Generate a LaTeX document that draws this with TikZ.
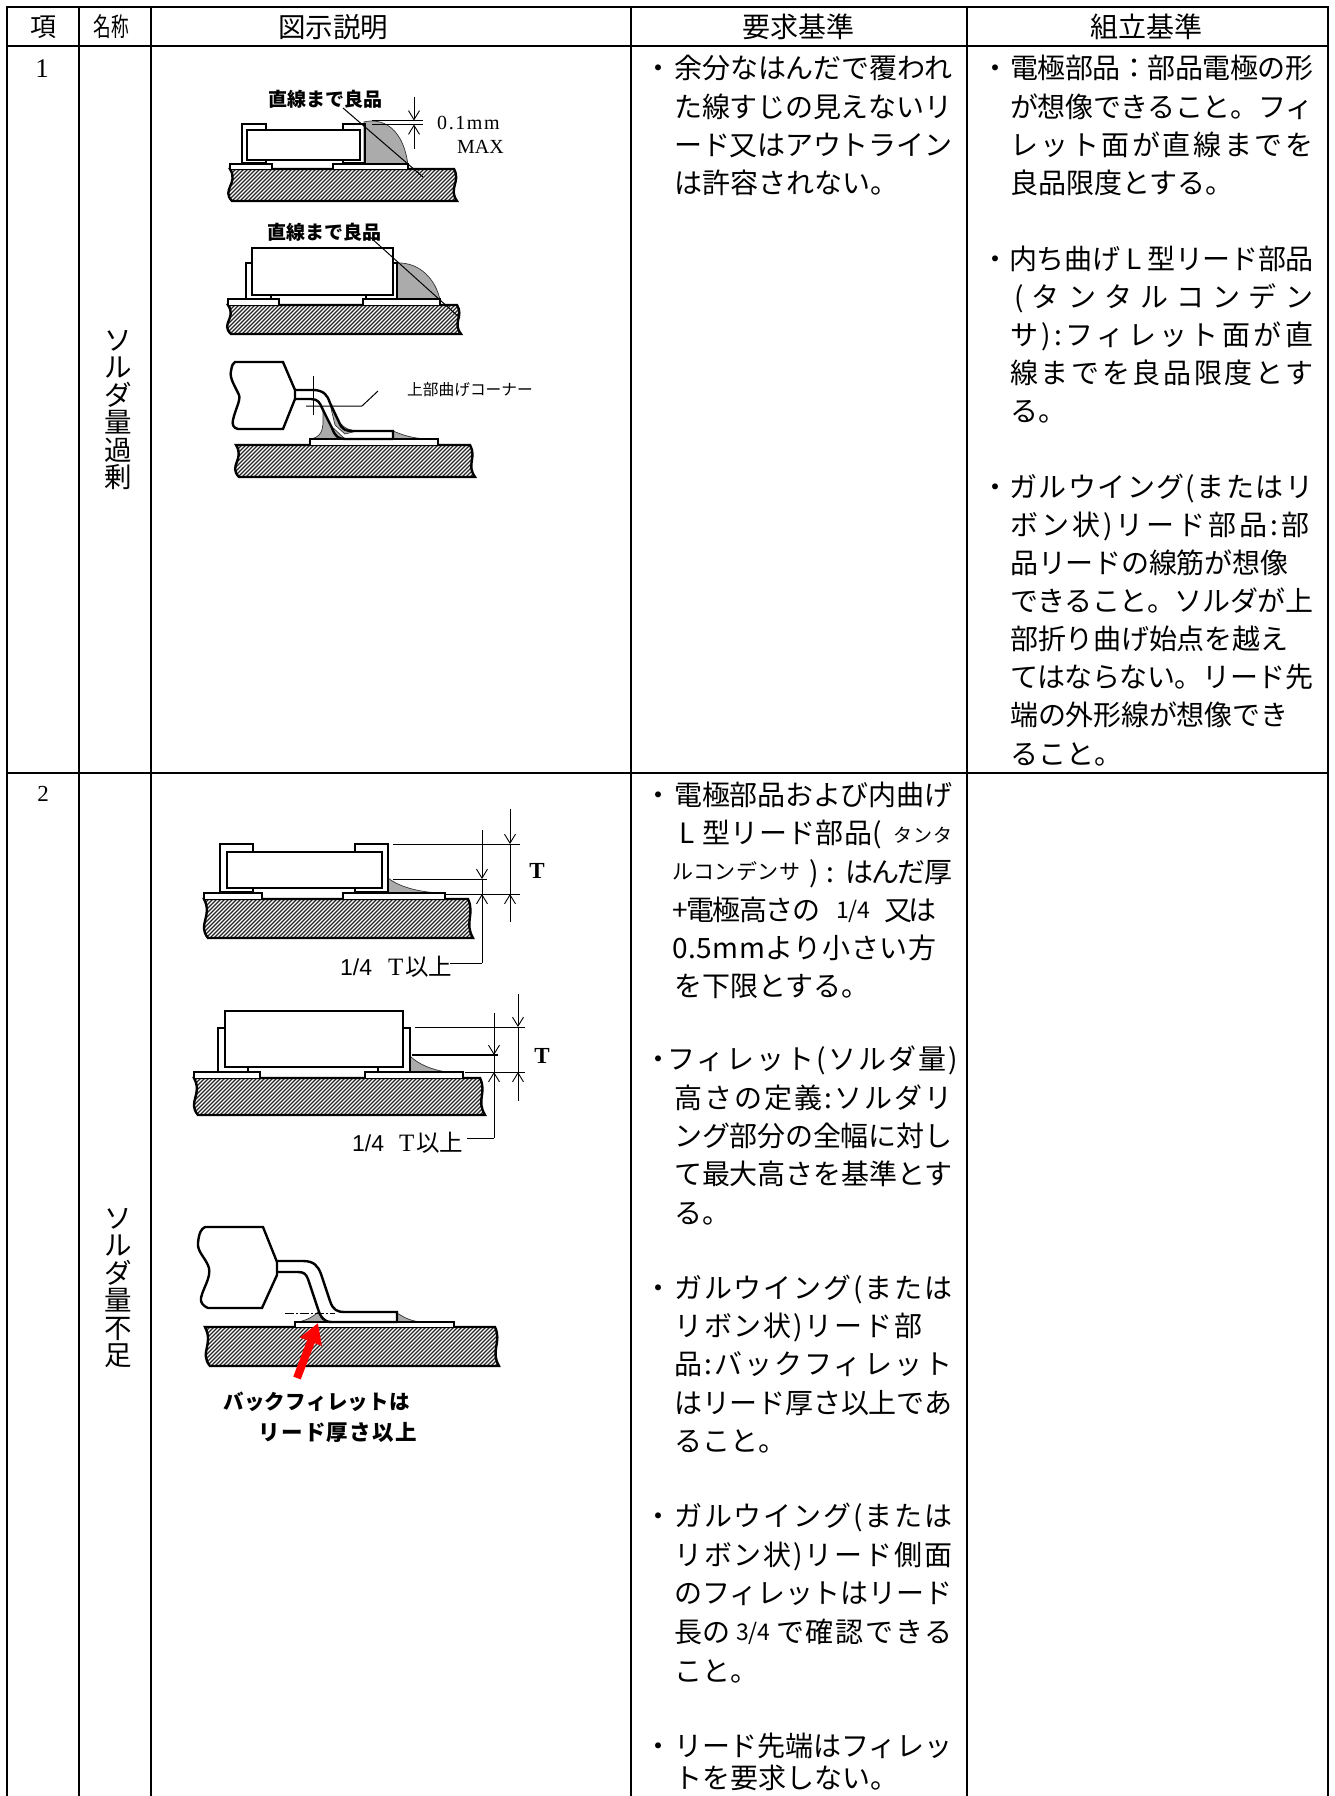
\documentclass[tikz,border=0pt]{standalone}
\usepackage{fontspec}
\usetikzlibrary{arrows.meta}
\newfontfamily\jpf{Noto Sans CJK JP}
\newfontfamily\sansf{Liberation Sans}
\newfontfamily\serf{Liberation Serif}
\ExplSyntaxOn
\cs_new:Npn \jcountchars #1 { \tl_count:n {#1} }
\ExplSyntaxOff
\newlength\jlen
\newcounter{jn}
\newcommand\jhook{}
\newcommand\jmed{\bfseries}
\makeatletter
\newcommand\jstrip[1]{\strip@pt#1}
\makeatother
% stretched line: [size]{x}{y centre}{width}{text}
\newcommand\jline[5][28]{%
  \stepcounter{jn}%
  \pgfinterruptpicture
    \settowidth\jlen{\fontsize{#1}{#1}\jpf\jhook #5}%
    \global\jlen=\jlen
  \endpgfinterruptpicture
  \edef\jw{\jstrip{\jlen}}%
  \edef\jnum{\jcountchars{#5}}%
  \pgfmathsetmacro\jsp{(#4-\jw)/(#1*(\jnum-1))*100}%
  \node[anchor=base west,inner sep=0pt] (t\arabic{jn}) at (#2,{#3+0.38*#1}) {\fontsize{#1}{#1}\jpf\jhook\addfontfeature{LetterSpace=\jsp}#5};%
}
% natural line
\newcommand\jtext[4][28]{%
  \stepcounter{jn}%
  \node[anchor=base west,inner sep=0pt] (t\arabic{jn}) at (#2,{#3+0.38*#1}) {\fontsize{#1}{#1}\jpf #4};%
}
% centred
\newcommand\jcen[4][28]{%
  \stepcounter{jn}%
  \node[anchor=base,inner sep=0pt] (t\arabic{jn}) at (#2,{#3+0.38*#1}) {\fontsize{#1}{#1}\jpf #4};%
}
\newcommand\jdot[2]{\jcen{#1}{#2}{・}}
% xl xlb xr xrb yt yb
\newcommand\boardpath[6]{(#1,#5) -- (#3,#5) .. controls ({#3+7},{#5+(#6-#5)*.4}) and ({#4-9},{#5+(#6-#5)*.6}) .. (#4,#6) -- (#2,#6) .. controls ({#2-11},{#5+(#6-#5)*.65}) and ({#1+9},{#5+(#6-#5)*.45}) .. cycle}
\newcommand\board[6]{%
  \begin{scope}
    \clip \boardpath{#1}{#2}{#3}{#4}{#5}{#6};
    \foreach \i in {0,4,...,340}
      \draw[hatchline] ({#1-50+\i},#6) -- ({#1-50+\i+#6-#5},#5);
  \end{scope}
  \draw[ol] \boardpath{#1}{#2}{#3}{#4}{#5}{#6};
}
\tikzset{
  x=1pt,y=-1pt,
  ol/.style={line width=2.4pt,draw=black,line join=miter},
  tl/.style={line width=1pt,draw=black},
  grid/.style={line width=2.6pt,draw=black},
  hatchline/.style={line width=1.1pt,draw=black!85},
  fillet/.style={fill=black!33,draw=black!80,line width=.7pt},
  padbox/.style={ol,fill=white},
  dimtip/.style={-{Straight Barb[length=9pt,width=11pt,line width=.9pt]},tl},
  vname/.style={inner sep=0pt,align=center,font=\fontsize{27.5}{27.5}\jpf},
}
\begin{document}
\begin{tikzpicture}
\useasboundingbox (0,0) rectangle (1335,1796);
\fill[white] (0,0) rectangle (1335,1796);
% table grid
\draw[grid] (7,1796) -- (7,7) -- (1328,7) -- (1328,1796);
\draw[grid] (7,46) -- (1328,46);
\draw[grid] (7,773) -- (1328,773);
\foreach \cx in {79,151,631,967} \draw[grid] (\cx,7) -- (\cx,1796);
% header
\jcen[26]{43}{27}{項}
\node[inner sep=0pt] (hname) at (111,27) {\scalebox{.68}[1]{\fontsize{26}{26}\jpf 名称}};
\jcen[27.5]{333}{27}{図示説明}
\jcen{798}{27}{要求基準}
\jcen{1146}{27}{組立基準}
% numbers
\node[inner sep=0pt] (n1) at (42,69) {\fontsize{27}{27}\serf 1};
\node[inner sep=0pt] (n2) at (43,794) {\fontsize{23}{23}\serf 2};
% vertical names
\node[vname] (v1) at (118.5,410) {ソ\\ル\\ダ\\量\\過\\剰};
\node[vname] (v2) at (118.5,1288) {ソ\\ル\\ダ\\量\\不\\足};
% column 4 row 1
\jdot{658}{68}
\jline{674}{68}{278}{余分なはんだで覆われ}
\jline{674}{107}{278}{た線すじの見えないリ}
\jline{674}{145}{278}{ード又はアウトライン}
\jtext{674}{183}{は許容されない。}
% column 5 row 1
\jdot{995}{68}
\jline{1010}{68}{303}{電極部品：部品電極の形}
\jline{1010}{107}{303}{が想像できること。フィ}
\jline{1010}{145}{303}{レット面が直線までを}
\jtext{1010}{183}{良品限度とする。}
\jdot{995}{259}
\jline{1009}{259}{304}{内ち曲げ~L~型リード部品}
\jline{1014}{297}{299}{(タンタルコンデン}
\jline{1010}{335}{303}{サ):フィレット面が直}
\jline{1010}{373}{303}{線までを良品限度とす}
\jtext{1010}{411}{る。}
\jdot{995}{487}
\jline{1009}{487}{304}{ガルウイング(またはリ}
\jline{1010}{525}{299}{ボン状)リード部品:部}
\jline{1010}{563}{278}{品リードの線筋が想像}
\jline{1010}{601}{303}{できること。ソルダが上}
\jline{1010}{639}{278}{部折り曲げ始点を越え}
\jline{1010}{677}{303}{てはならない。リード先}
\jline{1010}{715}{278}{端の外形線が想像でき}
\jtext{1010}{754}{ること。}
% column 4 row 2
\jdot{658}{795}
\jline{674}{795}{278}{電極部品および内曲げ}
\jtext{679}{833}{L}
\jline{702}{833}{180}{型リード部品(}
\jline[19]{893}{835}{59}{タンタ}
\jline[21]{672}{872}{128}{ルコンデンサ}
\jline{809}{872}{25}{):}
\jline{845}{872}{107}{はんだ厚}
\jline{672}{910}{148}{+電極高さの}
\jtext[23]{836}{910}{1/4}
\jline{884}{910}{52}{又は}
\jline{672}{948}{264}{0.5mmより小さい方}
\jtext{674}{986}{を下限とする。}
\jdot{658}{1059}
\jline{667}{1059}{291}{フィレット(ソルダ量)}
\jline{674}{1098}{278}{高さの定義:ソルダリ}
\jline{674}{1136}{278}{ング部分の全幅に対し}
\jline{674}{1174}{278}{て最大高さを基準とす}
\jtext{674}{1213}{る。}
\jdot{658}{1288}
\jline{674}{1288}{278}{ガルウイング(または}
\jline{674}{1326}{248}{リボン状)リード部}
\jline{674}{1364}{278}{品:バックフィレット}
\jline{674}{1403}{278}{はリード厚さ以上であ}
\jtext{674}{1441}{ること。}
\jdot{658}{1516}
\jline{674}{1516}{278}{ガルウイング(または}
\jline{674}{1555}{278}{リボン状)リード側面}
\jline{674}{1593}{278}{のフィレットはリード}
\jtext{674}{1632}{長の}
\jtext[23]{736}{1632}{3/4}
\jline{776}{1632}{176}{で確認できる}
\jtext{674}{1671}{こと。}
\jdot{658}{1746}
\jline{674}{1746}{278}{リード先端はフィレッ}
\jtext{674}{1778}{トを要求しない。}

% ---------- Figure 1
\board{230}{232}{454}{457}{169}{201}
\draw[fillet] (364,122) .. controls (375,119) and (402,120) .. (408,165) -- (364,165) -- cycle;
\draw[padbox] (230,169) -- (230,164) -- (272,164) -- (272,169);
\draw[padbox] (333,169) -- (333,164) -- (408,164) -- (408,169);
\draw[ol,fill=white] (247,130) rectangle (360,160);
\draw[ol] (266,129) -- (266,124) -- (242,124) -- (242,163) -- (266,163) -- (266,160);
\draw[ol] (343,129) -- (343,124) -- (365,124) -- (365,163) -- (343,163) -- (343,160);
\draw[tl] (343,108) -- (423,177);
\draw[tl] (372,120.5) -- (423,120.5);
\draw[tl] (372,124.5) -- (423,124.5);
\coordinate (d1a) at (414,97); \coordinate (d1b) at (414,120.5);
\coordinate (d1c) at (414,149); \coordinate (d1d) at (414,124.5);
\draw[dimtip] (d1a) -- (d1b);
\draw[dimtip] (d1c) -- (d1d);
\jtext[19]{268}{99}{\jmed 直線まで良品}
\node[anchor=west,inner sep=0pt] (m1) at (437,123) {\fontsize{20}{20}\serf\addfontfeature{LetterSpace=8}0.1mm};
\node[anchor=west,inner sep=0pt] (m2) at (457,147) {\fontsize{20}{20}\serf MAX};

% ---------- Figure 2
\board{228}{231}{457}{461}{305}{334}
\draw[fillet] (397,263) .. controls (420,262) and (436,280) .. (440,300) -- (397,300) -- cycle;
\draw[padbox] (228,305) -- (228,299) -- (279,299) -- (279,305);
\draw[padbox] (363,305) -- (363,299) -- (440,299) -- (440,305);
\draw[ol] (252,263) -- (246,263) -- (246,299);
\draw[ol] (393,263) -- (397,263) -- (397,299);
\draw[ol] (271,295) -- (271,299);
\draw[ol] (366,295) -- (366,299);
\draw[ol,fill=white] (252,248) rectangle (393,295);
\draw[tl] (370,237) -- (460,318);
\jtext[19]{267}{232}{\jmed 直線まで良品}

% ---------- Figure 3
\board{236}{239}{470}{475}{445}{477}
\draw[fillet] (323,408) .. controls (323,425) and (325,436) .. (311,439) -- (345,439) -- (330,425) -- cycle;
\draw[fillet] (330,404) .. controls (337,420) and (341,430) .. (357,431) -- (345,434) -- (335,425) -- cycle;
\draw[fillet] (393,431) .. controls (405,436) and (415,439) .. (432,439) -- (393,439) -- cycle;
\draw[padbox] (310,445) -- (310,439) -- (438,439) -- (438,445);
\draw[ol,fill=white] (235,362) -- (283,362) -- (295,390) -- (295,399) -- (283,429) -- (238,429) .. controls (233,428) and (232,424) .. (233,420) .. controls (235,410) and (241,400) .. (239,395) .. controls (236,388) and (229,378) .. (231,371) .. controls (232,365) and (233,363) .. cycle;
\draw[ol] (295,390) -- (313,390) .. controls (324,390) and (328,396) .. (330,403) -- (339,422) .. controls (342,430) and (346,431) .. (353,431) -- (393,431) -- (393,439);
\draw[ol] (295,399) -- (311,399) .. controls (318,399) and (320,403) .. (322,408) -- (332,428) .. controls (335,436) and (338,439) .. (345,439) -- (393,439);
\draw[tl] (313,376) -- (313,415);
\draw[tl] (306,406) -- (362,406) -- (378,391);
\jtext[15.7]{407}{390}{上部曲げコーナー}

% ---------- Figure 4
\board{204}{208}{468}{473}{899}{938}
\draw[fillet] (388,878) .. controls (398,886) and (415,891) .. (433,892.5) -- (388,892.5) -- cycle;
\draw[padbox] (204,899) -- (204,893) -- (262,893) -- (262,899);
\draw[padbox] (343,899) -- (343,893) -- (445,893) -- (445,899);
\draw[ol,fill=white] (227,852) rectangle (382,888);
\draw[ol] (253,851) -- (253,844) -- (220,844) -- (220,892) -- (253,892) -- (253,888);
\draw[ol] (355,851) -- (355,844) -- (388,844) -- (388,892) -- (355,892) -- (355,888);
\draw[tl] (393,844) -- (520,844);
\draw[tl] (393,879) -- (487,879);
\draw[tl] (445,894) -- (520,894);
\coordinate (d4a) at (510,809); \coordinate (d4b) at (510,844);
\coordinate (d4c) at (510,922); \coordinate (d4d) at (510,894);
\coordinate (d4e) at (482,830); \coordinate (d4f) at (482,879);
\coordinate (d4g) at (482,963); \coordinate (d4h) at (482,894);
\coordinate (d4i) at (450,963);
\draw[dimtip] (d4a) -- (d4b);
\draw[dimtip] (d4c) -- (d4d);
\draw[tl] (d4b) -- (d4d);
\draw[dimtip] (d4e) -- (d4f);
\draw[tl] (d4f) -- (d4h);
\draw[dimtip] (d4g) -- (d4h);
\draw[tl] (d4i) -- (d4g);
\node[inner sep=0pt] (T4) at (537,871) {\fontsize{23}{23}\serf\bfseries T};
\node[anchor=west,inner sep=0pt] (L4a) at (340,967) {\fontsize{23}{23}\sansf 1/4};
\node[anchor=west,inner sep=0pt] (L4b) at (388,967) {\fontsize{25}{25}\serf T};
\jtext[23.5]{405}{967}{以上}

% ---------- Figure 5
\board{194}{198}{480}{485}{1078}{1115}
\draw[fillet] (410,1056) .. controls (418,1064) and (432,1070) .. (447,1072) -- (410,1072) -- cycle;
\draw[padbox] (194,1078) -- (194,1072) -- (260,1072) -- (260,1078);
\draw[padbox] (365,1078) -- (365,1072) -- (463,1072) -- (463,1078);
\draw[ol] (225,1028) -- (218,1028) -- (218,1072);
\draw[ol] (403,1028) -- (410,1028) -- (410,1072);
\draw[ol] (248,1067) -- (248,1072);
\draw[ol] (378,1067) -- (378,1072);
\draw[ol,fill=white] (225,1011) rectangle (403,1067);
\draw[tl] (415,1027) -- (525,1027);
\draw[tl,line width=1.2pt] (412,1055) -- (498,1055);
\draw[tl] (465,1072) -- (525,1072);
\coordinate (d5a) at (518,994); \coordinate (d5b) at (518,1027);
\coordinate (d5c) at (518,1101); \coordinate (d5d) at (518,1072);
\coordinate (d5e) at (494,1013); \coordinate (d5f) at (494,1055);
\coordinate (d5g) at (494,1138); \coordinate (d5h) at (494,1072);
\coordinate (d5i) at (467,1138);
\draw[dimtip] (d5a) -- (d5b);
\draw[dimtip] (d5c) -- (d5d);
\draw[tl] (d5b) -- (d5d);
\draw[dimtip] (d5e) -- (d5f);
\draw[tl] (d5f) -- (d5h);
\draw[dimtip] (d5g) -- (d5h);
\draw[tl] (d5i) -- (d5g);
\node[inner sep=0pt] (T5) at (542,1056) {\fontsize{23}{23}\serf\bfseries T};
\node[anchor=west,inner sep=0pt] (L5a) at (352,1143) {\fontsize{23}{23}\sansf 1/4};
\node[anchor=west,inner sep=0pt] (L5b) at (399,1143) {\fontsize{25}{25}\serf T};
\jtext[23.5]{416}{1143}{以上}

% ---------- Figure 6
\board{205}{210}{495}{499}{1327}{1366}
\draw[fillet] (298,1322) .. controls (308,1320) and (314,1316) .. (318,1312) -- (328,1322) -- cycle;
\draw[fillet] (397,1313) .. controls (405,1318) and (412,1322) .. (425,1322) -- (397,1322) -- cycle;
\draw[padbox] (295,1327) -- (295,1322) -- (454,1322) -- (454,1327);
\draw[ol,fill=white] (205,1227) -- (263,1227) -- (277,1262) -- (277,1275) -- (262,1308) -- (208,1308) .. controls (203,1306) and (200,1302) .. (201,1298) .. controls (203,1288) and (211,1278) .. (209,1268) .. controls (206,1258) and (197,1252) .. (198,1243) .. controls (199,1233) and (201,1229) .. cycle;
\draw[ol] (277,1261) -- (303,1261) .. controls (314,1261) and (318,1266) .. (321,1274) -- (330,1301) .. controls (333,1310) and (337,1312) .. (345,1312) -- (397,1312) -- (397,1322);
\draw[ol] (277,1272) -- (298,1272) .. controls (304,1272) and (306,1274) .. (308,1279) -- (318,1309) .. controls (321,1318) and (324,1322) .. (332,1322) -- (397,1322);
\draw[tl,dash pattern=on 9pt off 2pt on 2pt off 2pt,line width=.8pt] (285,1313) -- (335,1313);
\coordinate (r1) at (297,1378); \coordinate (r2) at (318,1323);
\draw[red,line width=8pt,-{Triangle[length=20pt,width=22pt]}] (r1) -- (r2);
\renewcommand\jhook{\jmed}
\jline[20.5]{223}{1402}{187}{バックフィレットは}
\jline[21.5]{258}{1432}{159}{リード厚さ以上}
\renewcommand\jhook{}
\end{tikzpicture}
\end{document}
